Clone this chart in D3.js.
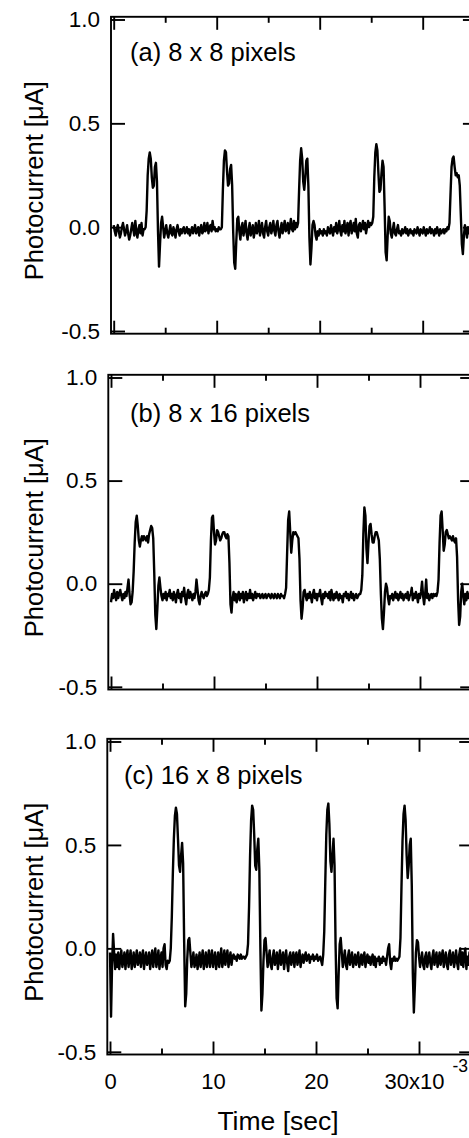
<!DOCTYPE html>
<html>
<head>
<meta charset="utf-8">
<script src="https://cdn.jsdelivr.net/npm/d3@7"></script>
<style>
  html, body { margin: 0; padding: 0; background: #fff; }
  svg { display: block; }
  text { font-family: "Liberation Sans", Arial, Helvetica, sans-serif; fill: #000; }
</style>
</head>
<body>
<svg id="chart" width="469" height="1138"></svg>
<script>
// Sampled photocurrent traces (µA), one sample every 0.1 ms from 0 to 35 ms.
const sampleStepMs = 0.1;
const timeDomainMs = [0, 35];
const currentDomain = [-0.5, 1.0];

const panelLabels = ["(a) 8 x 8 pixels", "(b) 8 x 16 pixels", "(c) 16 x 8 pixels"];
const yTickValues = [-0.5, 0.0, 0.5, 1.0];
const yTickLabels = ["-0.5", "0.0", "0.5", "1.0"];
const xMajorTicks = [0, 10, 20, 30];
const xMinorTicks = [5, 15, 25, 35];
const xTickLabels = ["0", "10", "20", "30x10"];
const xExponentLabel = "-3";
const xTitle = "Time [sec]";
const yTitle = "Photocurrent [\u03BCA]";

const current8x8 = [
  0.01, -0.02, -0.04, -0.01, 0.01, -0.02, -0.05, -0.03, 0.00, 0.02,
  -0.01, -0.04, -0.02, 0.01, -0.03, -0.06, -0.04, -0.01, 0.02, -0.01,
  -0.04, 0.03, -0.02, -0.05, -0.01, 0.01, -0.03, 0.02, -0.04, -0.01,
  -0.01, 0.00, 0.08, 0.25, 0.33, 0.36, 0.33, 0.24, 0.19, 0.20,
  0.29, 0.31, 0.22, -0.02, -0.19, -0.08, 0.02, 0.05, 0.00, -0.05,
  -0.02, 0.01, -0.03, -0.05, -0.02, 0.01, -0.03, -0.04, 0.00, -0.02,
  -0.05, -0.01, 0.01, -0.02, -0.04, -0.01, -0.03, -0.01, 0.00, -0.03,
  -0.02, 0.00, -0.03, -0.01, -0.04, -0.02, 0.00, -0.03, -0.01, 0.01,
  -0.03, -0.02, 0.00, -0.04, -0.01, 0.01, -0.03, -0.02, 0.02, -0.02,
  -0.01, 0.02, -0.03, 0.00, 0.01, -0.02, 0.03, -0.01, 0.00, -0.02,
  -0.01, -0.02, 0.00, -0.01, -0.01, 0.00, 0.18, 0.32, 0.37, 0.36,
  0.27, 0.20, 0.21, 0.28, 0.30, 0.20, -0.02, -0.17, -0.20, -0.07,
  0.04, 0.05, -0.02, -0.06, 0.00, 0.02, -0.04, -0.01, 0.03, -0.03,
  -0.06, -0.01, 0.02, -0.04, -0.02, 0.01, -0.05, -0.02, 0.02, -0.03,
  -0.01, 0.03, -0.04, -0.01, 0.02, -0.03, -0.05, 0.00, 0.03, -0.02,
  -0.04, 0.00, 0.02, -0.03, -0.01, 0.03, -0.02, -0.04, 0.01, 0.03,
  -0.02, -0.05, -0.01, 0.02, -0.03, 0.00, 0.03, -0.02, -0.01, 0.02,
  -0.03, 0.00, 0.04, -0.01, -0.02, 0.03, -0.01, 0.02, 0.00, 0.02,
  0.18, 0.32, 0.38, 0.33, 0.22, 0.18, 0.24, 0.32, 0.33, 0.20,
  -0.05, -0.18, -0.10, 0.01, 0.03, 0.01, -0.04, -0.06, -0.02, -0.04,
  -0.01, -0.03, -0.02, -0.04, -0.01, -0.03, -0.02, -0.04, 0.00, -0.02,
  -0.03, 0.01, -0.02, -0.04, 0.00, -0.02, 0.02, -0.03, -0.01, 0.03,
  -0.02, -0.04, 0.01, -0.02, 0.03, -0.03, -0.01, 0.02, -0.04, 0.01,
  0.03, -0.03, -0.01, 0.02, -0.02, 0.04, -0.03, -0.05, 0.01, 0.02,
  -0.02, 0.00, 0.03, -0.01, 0.02, -0.03, 0.00, 0.03, 0.00, 0.02,
  0.01, 0.02, 0.05, 0.24, 0.36, 0.40, 0.37, 0.26, 0.17, 0.18,
  0.26, 0.32, 0.29, 0.10, -0.12, -0.16, -0.04, 0.05, 0.03, -0.03,
  -0.05, -0.01, 0.02, -0.03, -0.04, -0.01, 0.01, -0.03, -0.02, -0.04,
  -0.01, -0.03, -0.02, 0.00, -0.03, -0.01, -0.04, -0.02, -0.01, -0.03,
  -0.02, -0.04, -0.01, -0.02, -0.03, 0.00, -0.02, -0.04, -0.01, -0.02,
  -0.03, 0.00, -0.02, -0.04, -0.01, -0.03, -0.02, 0.00, -0.03, -0.01,
  -0.02, -0.04, -0.01, -0.03, 0.00, -0.02, -0.04, -0.01, -0.03, -0.02,
  -0.01, -0.03, -0.01, -0.02, 0.00, -0.01, 0.02, 0.16, 0.29, 0.33,
  0.34, 0.29, 0.25, 0.26, 0.24, 0.25, 0.20, 0.06, -0.08, -0.13,
  -0.04, 0.01, -0.02, -0.05, 0.00, -0.03, -0.01, -0.04, -0.02, -0.01,
  -0.02
];

const current8x16 = [
  -0.09, -0.05, -0.07, -0.03, -0.06, -0.08, -0.04, -0.07, -0.05, -0.03,
  -0.06, -0.08, -0.05, -0.07, -0.04, -0.06, -0.02, 0.02, -0.05, -0.10,
  -0.09, -0.04, 0.06, 0.20, 0.30, 0.33, 0.28, 0.21, 0.18, 0.21,
  0.23, 0.21, 0.23, 0.22, 0.21, 0.23, 0.20, 0.24, 0.26, 0.28,
  0.27, 0.22, 0.05, -0.15, -0.22, -0.12, -0.01, 0.03, -0.02, -0.06,
  -0.08, -0.05, -0.07, -0.04, -0.08, -0.05, -0.06, -0.03, -0.07, -0.05,
  -0.08, -0.04, -0.06, -0.09, -0.05, -0.03, -0.07, -0.05, -0.09, -0.04,
  -0.06, -0.02, -0.07, -0.10, -0.05, -0.03, -0.07, -0.04, -0.06, -0.08,
  -0.05, -0.07, -0.04, 0.02, -0.03, -0.08, -0.10, -0.06, -0.04, -0.06,
  -0.07, -0.05, -0.04, -0.06, -0.05, -0.03, 0.03, 0.21, 0.32, 0.33,
  0.25, 0.19, 0.21, 0.26, 0.25, 0.23, 0.21, 0.22, 0.24, 0.25,
  0.25, 0.23, 0.22, 0.24, 0.23, 0.10, -0.10, -0.14, -0.07, -0.04,
  -0.08, -0.05, -0.09, -0.06, -0.04, -0.08, -0.05, -0.07, -0.04, -0.09,
  -0.06, -0.04, -0.08, -0.05, -0.07, -0.03, -0.07, -0.05, -0.08, -0.06,
  -0.04, -0.07, -0.05, -0.06, -0.05, -0.07, -0.06, -0.05, -0.07, -0.06,
  -0.05, -0.07, -0.06, -0.05, -0.06, -0.07, -0.05, -0.06, -0.07, -0.05,
  -0.06, -0.07, -0.05, -0.06, -0.07, -0.05, -0.06, -0.06, -0.07, -0.05,
  -0.02, 0.15, 0.31, 0.35, 0.25, 0.15, 0.21, 0.25, 0.24, 0.25,
  0.24, 0.23, 0.22, 0.12, -0.08, -0.17, -0.12, -0.04, -0.03, -0.06,
  -0.08, -0.05, -0.07, -0.04, -0.06, -0.09, -0.05, -0.03, -0.07, -0.05,
  -0.08, -0.05, -0.06, -0.03, -0.07, -0.10, -0.05, -0.07, -0.04, -0.06,
  -0.05, -0.07, -0.04, -0.08, -0.03, -0.06, -0.08, -0.05, -0.07, -0.04,
  -0.06, -0.08, -0.05, -0.07, -0.06, -0.09, -0.05, -0.06, -0.04, -0.07,
  -0.05, -0.08, -0.06, -0.04, -0.07, -0.05, -0.08, -0.06, -0.05, -0.07,
  -0.06, -0.05, -0.05, -0.03, 0.04, 0.24, 0.37, 0.33, 0.17, 0.10,
  0.20, 0.28, 0.29, 0.24, 0.20, 0.20, 0.23, 0.25, 0.25, 0.23,
  0.21, 0.12, -0.05, -0.17, -0.22, -0.14, -0.04, 0.00, -0.02, -0.07,
  -0.10, -0.06, -0.07, -0.05, -0.08, -0.06, -0.04, -0.07, -0.05, -0.08,
  -0.06, -0.04, -0.07, -0.05, -0.08, -0.06, -0.05, -0.07, -0.04, -0.08,
  -0.06, -0.05, -0.02, -0.08, -0.05, -0.07, -0.04, -0.06, -0.09, -0.05,
  -0.07, -0.04, 0.01, -0.06, -0.10, -0.05, 0.02, -0.07, -0.05, -0.08,
  -0.06, -0.05, -0.07, -0.05, -0.06, -0.05, -0.06, -0.04, 0.02, 0.20,
  0.33, 0.35, 0.26, 0.16, 0.19, 0.25, 0.26, 0.24, 0.22, 0.23,
  0.22, 0.21, 0.23, 0.21, 0.20, 0.22, 0.13, -0.08, -0.20, -0.16,
  -0.04, 0.00, -0.06, -0.10, -0.05, -0.08, -0.04, -0.07, -0.05, -0.06,
  -0.06
];

const current16x8 = [
  -0.02, -0.33, -0.08, 0.07, -0.02, -0.10, -0.03, -0.09, -0.02, -0.10,
  -0.05, -0.01, -0.09, -0.06, -0.02, -0.10, -0.04, -0.01, -0.09, -0.05,
  -0.01, -0.10, -0.06, -0.02, -0.09, -0.05, -0.01, -0.08, -0.06, -0.02,
  -0.09, -0.04, -0.01, -0.10, -0.05, -0.02, -0.08, -0.06, -0.02, -0.10,
  -0.05, -0.01, -0.09, -0.04, 0.00, -0.09, -0.06, -0.01, -0.10, -0.05,
  -0.02, -0.09, 0.00, 0.02, -0.08, -0.10, -0.06, -0.07, -0.06, 0.00,
  0.15, 0.36, 0.53, 0.64, 0.68, 0.65, 0.53, 0.40, 0.37, 0.45,
  0.51, 0.41, 0.03, -0.28, -0.22, -0.05, 0.04, 0.05, -0.02, -0.09,
  -0.06, -0.02, -0.09, -0.07, -0.03, -0.10, -0.06, -0.02, -0.09, -0.05,
  -0.01, -0.10, -0.06, -0.02, -0.09, -0.05, -0.01, -0.09, -0.05, -0.01,
  -0.09, -0.05, -0.02, -0.10, -0.06, -0.02, -0.09, -0.05, 0.00, -0.09,
  -0.06, -0.01, -0.08, -0.04, -0.01, -0.09, -0.05, -0.02, -0.08, -0.04,
  -0.03, -0.05, -0.04, -0.06, -0.03, -0.04, -0.05, -0.03, -0.05, -0.04,
  -0.04, -0.05, -0.04, -0.03, 0.02, 0.20, 0.45, 0.62, 0.69, 0.67,
  0.55, 0.40, 0.38, 0.48, 0.53, 0.38, 0.00, -0.30, -0.22, -0.06,
  0.04, 0.05, -0.02, -0.09, -0.05, -0.01, -0.08, -0.10, -0.04, -0.01,
  -0.08, -0.06, -0.02, -0.10, -0.05, -0.01, -0.08, -0.05, -0.02, -0.10,
  -0.05, -0.01, -0.07, -0.11, -0.04, -0.02, -0.08, -0.05, -0.02, -0.09,
  -0.04, -0.02, -0.08, -0.05, -0.01, -0.09, -0.05, -0.03, -0.07, -0.04,
  -0.02, -0.06, -0.04, -0.03, -0.07, -0.04, -0.05, -0.03, -0.06, -0.04,
  -0.05, -0.03, -0.06, -0.05, -0.04, -0.06, -0.08, -0.03, 0.08, 0.32,
  0.55, 0.67, 0.70, 0.60, 0.42, 0.37, 0.45, 0.53, 0.40, 0.02,
  -0.24, -0.29, -0.12, 0.02, 0.05, -0.02, -0.09, -0.05, -0.01, -0.08,
  -0.10, -0.04, -0.01, -0.08, -0.05, -0.02, -0.09, -0.06, -0.03, -0.08,
  -0.05, -0.02, -0.09, -0.06, -0.03, -0.08, -0.04, -0.02, -0.09, -0.05,
  -0.03, -0.07, -0.04, -0.08, -0.05, -0.03, -0.08, -0.04, -0.09, -0.05,
  -0.06, -0.04, -0.08, -0.05, -0.07, -0.04, -0.06, -0.05, -0.08, -0.04,
  0.00, 0.02, -0.07, -0.10, -0.05, -0.06, -0.04, -0.06, -0.05, -0.06,
  -0.05, -0.04, 0.05, 0.30, 0.52, 0.65, 0.69, 0.62, 0.45, 0.34,
  0.40, 0.50, 0.53, 0.30, -0.12, -0.31, -0.18, -0.02, 0.04, 0.03,
  -0.04, -0.09, -0.05, -0.02, -0.08, -0.10, -0.04, -0.02, -0.09, -0.06,
  -0.02, -0.07, -0.10, -0.04, -0.01, -0.08, -0.05, -0.02, -0.09, -0.06,
  -0.02, -0.08, -0.04, -0.01, -0.09, -0.05, -0.02, -0.08, -0.10, -0.03,
  -0.01, -0.08, -0.05, -0.02, -0.09, -0.06, -0.01, -0.07, -0.10, -0.03,
  0.00, -0.08, -0.02, -0.09, -0.03, 0.00, -0.10, -0.04, -0.08, -0.02,
  -0.06
];

const seriesList = [current8x8, current8x16, current16x8];

// Panel geometry (pixels): left edge of the time axis, top/bottom of the current axis,
// and the corner position of each panel caption.
const panelLayout = [
  { x0: 113.7, top: 19.5,  bottom: 331.0,  labelX: 130, labelY: 61 },
  { x0: 111.0, top: 377.5, bottom: 686.8,  labelX: 130, labelY: 422 },
  { x0: 110.0, top: 741.5, bottom: 1051.8, labelX: 124, labelY: 784 }
];
const pxPerMs = 10.3;
const framePad = 2.7;
const strokeW = 1.9;
const fontStack = '"Liberation Sans", Arial, Helvetica, sans-serif';

const svg = d3.select("#chart");

function styleAxis(g) {
  g.select(".domain").remove();
  g.selectAll(".tick line").attr("stroke", "#000").attr("stroke-width", strokeW);
}

seriesList.forEach((values, p) => {
  const L = panelLayout[p];
  const x = d3.scaleLinear().domain(timeDomainMs).range([L.x0, L.x0 + (timeDomainMs[1] - timeDomainMs[0]) * pxPerMs]);
  const y = d3.scaleLinear().domain(currentDomain).range([L.bottom, L.top]);
  const [xl, xr] = x.range();
  const g = svg.append("g");

  // frame
  g.append("rect")
    .attr("x", xl - framePad).attr("y", L.top - framePad)
    .attr("width", xr - xl + 2 * framePad).attr("height", L.bottom - L.top + 2 * framePad)
    .attr("fill", "none").attr("stroke", "#000").attr("stroke-width", strokeW);

  // left axis: inward ticks with labels
  g.append("g")
    .attr("transform", `translate(${xl - framePad},0)`)
    .call(d3.axisLeft(y).tickValues(yTickValues)
      .tickFormat((d, i) => yTickLabels[i])
      .tickSizeInner(-14).tickSizeOuter(0).tickPadding(11))
    .call(styleAxis)
    .call(a => a.selectAll("text").attr("font-size", 22.5).attr("fill", "#000")
      .attr("font-family", fontStack));

  // right axis: inward ticks only
  g.append("g")
    .attr("transform", `translate(${xr + framePad},0)`)
    .call(d3.axisRight(y).tickValues(yTickValues).tickFormat("")
      .tickSizeInner(-14).tickSizeOuter(0))
    .call(styleAxis);

  // top axis: major and minor ticks pointing down
  g.append("g")
    .attr("transform", `translate(0,${L.top - framePad})`)
    .call(d3.axisTop(x).tickValues(xMajorTicks).tickFormat("").tickSizeInner(-13).tickSizeOuter(0))
    .call(styleAxis);
  g.append("g")
    .attr("transform", `translate(0,${L.top - framePad})`)
    .call(d3.axisTop(x).tickValues(xMinorTicks).tickFormat("").tickSizeInner(-6).tickSizeOuter(0))
    .call(styleAxis);

  // bottom axis: labels only on the last panel
  const isLast = p === seriesList.length - 1;
  const bottomMajor = g.append("g")
    .attr("transform", `translate(0,${L.bottom + framePad})`)
    .call(d3.axisBottom(x).tickValues(xMajorTicks)
      .tickFormat((d, i) => isLast ? xTickLabels[i] : "")
      .tickSizeInner(-13).tickSizeOuter(0).tickPadding(18.5))
    .call(styleAxis);
  g.append("g")
    .attr("transform", `translate(0,${L.bottom + framePad})`)
    .call(d3.axisBottom(x).tickValues(xMinorTicks).tickFormat("").tickSizeInner(-6).tickSizeOuter(0))
    .call(styleAxis);

  if (isLast) {
    bottomMajor.selectAll("text")
      .attr("font-size", 22).attr("fill", "#000")
      .attr("font-family", fontStack);
    // last label carries the x10^-3 exponent
    const lastLabel = bottomMajor.selectAll(".tick text").filter((d) => d === xMajorTicks[xMajorTicks.length - 1]);
    lastLabel.attr("text-anchor", "start").attr("x", -35);
    lastLabel.append("tspan")
      .attr("dx", 8).attr("dy", -17)
      .attr("font-size", 17.5)
      .text(xExponentLabel);
  }

  // trace
  const line = d3.line()
    .x((d, i) => x(i * sampleStepMs))
    .y(d => y(d));
  g.append("path")
    .datum(values)
    .attr("d", line)
    .attr("fill", "none")
    .attr("stroke", "#000")
    .attr("stroke-width", 2.4)
    .attr("stroke-linejoin", "round");

  // panel caption
  g.append("text")
    .attr("x", L.labelX).attr("y", L.labelY)
    .attr("font-size", 25.5)
    .text(panelLabels[p]);

  // y title
  const cy = (L.top + L.bottom) / 2 + 5.5;
  g.append("text")
    .attr("transform", `translate(43,${cy}) rotate(-90)`)
    .attr("text-anchor", "middle")
    .attr("font-size", 25.5)
    .text(yTitle);
});

// x title
svg.append("text")
  .attr("x", 278).attr("y", 1130)
  .attr("text-anchor", "middle")
  .attr("font-size", 26.5)
  .text(xTitle);
</script>
</body>
</html>
